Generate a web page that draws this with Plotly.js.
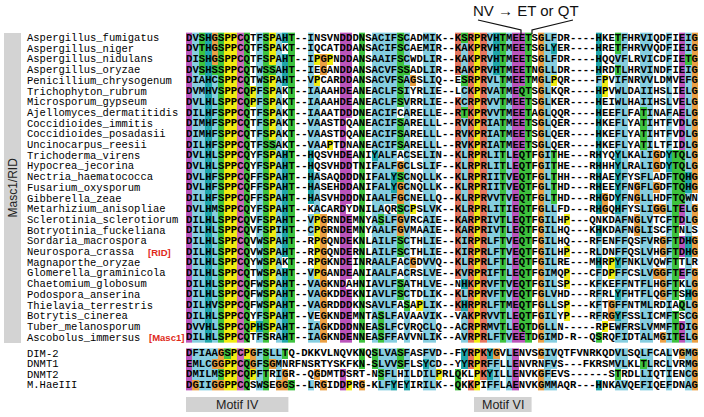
<!DOCTYPE html>
<html><head><meta charset="utf-8">
<script src="https://cdn.plot.ly/plotly-3.0.1.min.js"></script>
<style>html,body{margin:0;padding:0;background:#fff}#chart{width:704px;height:417px}</style>
</head><body><div id="chart"></div>
<script>
// ---------------- data ----------------
const fungalNames = [
  'Aspergillus_fumigatus','Aspergillus_niger','Aspergillus_nidulans','Aspergillus_oryzae',
  'Penicillium_chrysogenum','Trichophyton_rubrum','Microsporum_gypseum','Ajellomyces_dermatitidis',
  'Coccidioides_immitis','Coccidioides_posadasii','Uncinocarpus_reesii','Trichoderma_virens',
  'Hypocrea_jecorina','Nectria_haematococca','Fusarium_oxysporum','Gibberella_zeae',
  'Metarhizium_anisopliae','Sclerotinia_sclerotiorum','Botryotinia_fuckeliana','Sordaria_macrospora',
  'Neurospora_crassa','Magnaporthe_oryzae','Glomerella_graminicola','Chaetomium_globosum',
  'Podospora_anserina','Thielavia_terrestris','Botrytis_cinerea','Tuber_melanosporum','Ascobolus_immersus'
];
const fungalSeqs = [
  'DVSHGSPPCQTFSPAHT--INSVNDDDNSACIFSCADMIK--KSRPRVHTMEETSGLFDR----HKETFHRVIQDFIEIG',
  'DVTHGSPPCQTFSPAKT--IQCATDDANSACIFSCAEMIR--KAKPRVHTMEETSGLYER----HRETFHRVVQDFIEIG',
  'DISHGSPPCQTFSPAHT--IPGPNDDANSAAIFSCWDLIR--KAKPRVHTMEETSGLFDR----HQQVFLRVICDFIETG',
  'DVSHSSPPCQTWSSAHT--IEGANDDANSACVFSSADLIR--RAKPRVHTMEETNGLLDR----HRDTLHRVINDFIEIG',
  'DIAHCSPPCQTWSPAHT--VPCARDDANSACVFSAGSLIQ--ESRPRVLTMEETMGLPQR----FPVIFNRVVLDMVEFG',
  'DVMHVSPPCQPFSPAKT--IAAAHDEANEACLFSIYRLIE--LCKPRVATMEQTSGLKQR----HPVWLDAIIHSLIELG',
  'DVLHLSPPCQPFSPAKT--IAAAHDEANEACLFSVRRLIE--KCRPRVVTMEETSGLKER----HEIWLHAIIHSLVELG',
  'DILHFSPPCQTFSPAKT--IAAATDDDNEACIFCARELLE--RTKPRVVTMEETAGLQQR----HEEFLFATINAFAELG',
  'DIMHFSPPCQTFSPAKT--VAASTDQANEACIFSARELLL--RVKPRIATMEETSGLQER----HKEFLYATIHTFVDLG',
  'DIMHFSPPCQTFSPAKT--VAASTDQANEACIFSARELLL--RVKPRIATMEETSGLQER----HKEFLYATIHTFVDLG',
  'DILHFSPPCQTFSSAKT--VAAPTDNANEACIFSARELLL--RVKPRIATMEETSGLQER----HKEFLYATILTFIDLG',
  'DVLHLSPPCQYFSPAHT--HQSVHDEANIYALFACSELIN--KLRPRLITLEQTFGITHE---RHYQYLKALIGDYTQLG',
  'DVLHLSPPCQYFSPAHT--HQSVHDDTNIFALFGCLSLIF--KLRPRLITLEQTFGITHE---RHHHYLRALIGDYTQLG',
  'DVLHFSPPCQFFSPAHT--HASAQDDDNIFALYSCNQLLK--KLRPRIITVEQTFGLTHH---RHAEYFYSFLADFTQHG',
  'DVLHFSPPCQFFSPAHT--HASEHDDANIFALYGCNQLLK--KLRPRIITVEQTFGLTHD---RHEEYFNGFLGDFTQHG',
  'DILHFSPPCQFFSPAHT--HASVHDDDNIAALFGCNELLQ--KLRPRVVTVEQTFGLTHD---RHGDYFNGLLHDFTQWN',
  'DVLHMSPPCQYFSPAHT--KACARDYDNILAQRSCPSLVK--KLRPRLITIEQTFGLLFD---RHGQHFYSLIGGLTELG',
  'DILHLSPPCQVFSPAHT--VPGRNDEMNYASLFGVRCAIE--KARPRIVTLEQTFGILHP---QNKDAFNGLVTCFTDLG',
  'DILHLSPPCQVFSPIHT--CPGRNDEMNYAALFGVMAAIE--KARPRIVTLEQTFGILHQ---KHKDAFNGLISCFTNLS',
  'DILHLSPPCQVWSPAHT--RPGQNDEKNLAILFSCTHLIE--KIRPRLFTVEQTFGILHQ---RFENFFQSFVRGFTDHG',
  'DILHLSPPCQVWSPAHT--RPGQNDERNLAILFSCTHLIE--KIRPRLFTVEQTFGILHP---RLDNFFQSLVHGFTDHG',
  'DILHLSPPCQYWSPAKT--RPGKNDEINRAALFACGDVVQ--KLRPRLFTLEQTFGILRE---MHRPYFNKLVQWFTTLR',
  'DILHLSPPCQTWSPAHT--VPGANDEANIAALFACRSLVE--KVRPRIFTLEQTFGIMQP---CFDPFFCSLVGGFTEFG',
  'DILHLSPPCQFWSPAHT--VAGKNDAHNIAVLFSATHLVE--NHKPRVFTVEQTFGILSP---KFKEFFNTFLHGFTKLG',
  'DILHLSPPCQFWSPAHT--VAGKDDEKNIAVLFSCTDLIK--KLRPRVFTVEQTFGLVHD---RFRLYFHTFLQGFTSHG',
  'DILHVSPPCQFWSPAHT--VAGRDDDKNSAVLFASAPLIK--KHRPRLFTMEQTFGLLSP---KFTGFFNTMLRDIAQLG',
  'DILHLSPPCQYFSPAHT--VEGKNDEMNTASLFAVAAVIK--VAKPRVVTLEQTFGILYP---RFRGYFSSLICMFTSCG',
  'DVVHLSPPCQPHSPAHT--IAGKDDDNNEASLFCVRQCLQ--ACRPRMVTLEQTDGLLN-----RPEWFRSLVMMFTDIG',
  'DILHLSPPCQTFSRAHT--IAGKNDENNEASFFAVVNLIK--AVRPRLFTVEETDGIMD-R--QSRQFIDTALMGITELG'
];
const mtaseNames = ['DIM-2','DNMT1','DNMT2','M.HaeIII'];
const mtaseSeqs = [
  'DFIAAGSPCPGFSLLTQ-DKKVLNQVKNQSLVASFASFVD--FYRPKYGVLENVSGIVQTFVNRKQDVLSQLFCALVGMG',
  'EMLCGGPPCQGFSGMNRFNSRTYSKFKN-SLVVSFLSYCD--YYRPRFFLLENVRNFVS---FKRSMVLKLTLRCLVRMG',
  'DMILMSPPCQPFTRIGR--QGDMTDSRT-NSFLHILDILPRLQKLPKYILLENVKGFEVS------STRDLLIQTIENCG',
  'DGIIGGPPCQSWSEGGS--LRGIDDPRG-KLFYEYIRILK--QKKPIFFLAENVKGMMAQR---HNKAVQEFIQEFDNAG'
];
const taggedSpecies = ['Neurospora_crassa','Ascobolus_immersus'];
const tagTexts = ['[RID]','[Masc1]'];
const groupLabel = 'Masc1/RID';
const motifLabels = ['Motif IV','Motif VI'];
const mutationLabel = 'NV \u2192 ET or QT';

// ---------------- geometry helpers ----------------
const W = 704, H = 417;
const CW = 6.4, X0 = 186;     // column width, alignment left edge (px)
const RH = 10.7, Y0 = 38;     // row height, first row centre (px)
const xr0 = 0.5 - X0 / CW, xr1 = xr0 + W / CW;
const yr0 = -Y0 / RH, yr1 = yr0 + H / RH;
const px = v => v / W, py = v => 1 - v / H;

const NCOL = 80;
const pad = s => (s + '-'.repeat(NCOL)).slice(0, NCOL);
const allSeqs = fungalSeqs.concat(mtaseSeqs).map(pad);
const fungalY = fungalSeqs.map((_, i) => i);
const mtaseY = mtaseSeqs.map((_, j) => fungalSeqs.length + 0.5 + j * 0.985);

// ---------------- ClustalX colouring ----------------
const COLORS = ['#ffffff', '#86cee0', '#1fa6aa', '#3ec23e', '#e7765f', '#bb55bb', '#c96bb9', '#eba044', '#f1ec12'];
const CI = {NONE:0, BLUE:1, CYAN:2, GREEN:3, RED:4, MAGENTA:5, PINK:6, ORANGE:7, YELLOW:8};
function consensus(colChars) {
  const n = colChars.length, cnt = {};
  colChars.forEach(c => cnt[c] = (cnt[c] || 0) + 1);
  const pct = s => s.split('').reduce((a, c) => a + (cnt[c] || 0), 0) / n * 100;
  const S = new Set();
  const hyd = pct('WLVIMAFCYHP');
  if (hyd >= 60) S.add('%');
  if (hyd >= 80) S.add('#');
  if (pct('ED') >= 50) S.add('-');
  if (pct('KR') >= 60) S.add('+');
  if (pct('G') >= 50) S.add('g');
  if (pct('N') >= 50) S.add('n');
  if (pct('QE') >= 50) S.add('q');
  if (pct('P') >= 50) S.add('p');
  if (pct('TS') >= 50) S.add('t');
  for (const aa of 'ACDEFGHIKLMNPQRSTVWY') if (pct(aa) >= 85) S.add(aa);
  return S;
}
const HYD = '%#ACFHILMVWYPp';
const RULES = {
  G: [['ORANGE', null]], P: [['YELLOW', null]],
  T: [['GREEN', 'tST%#']], S: [['GREEN', 'tST#']],
  N: [['GREEN', 'nND']], Q: [['GREEN', 'qQE+KR']],
  W: [['BLUE', HYD]], L: [['BLUE', HYD]], V: [['BLUE', HYD]], I: [['BLUE', HYD]],
  M: [['BLUE', HYD]], F: [['BLUE', HYD]], A: [['BLUE', HYD + 'TSG']],
  C: [['BLUE', '%#AFHILMVWYSPp'], ['PINK', 'C']],
  H: [['CYAN', HYD]], Y: [['CYAN', HYD]],
  E: [['MAGENTA', '-DEqQ']], D: [['MAGENTA', '-DEnN']],
  K: [['RED', '+KRQ']], R: [['RED', '+KRQ']]
};
const cons = [];
for (let c = 0; c < NCOL; c++) cons.push(consensus(allSeqs.map(s => s[c])));
function colorIndex(ch, c) {
  const rules = RULES[ch]; if (!rules) return 0;
  let res = 0;
  for (const [col, cond] of rules) {
    if (cond === null || cond.split('').some(k => cons[c].has(k))) res = CI[col];
  }
  return res;
}
const zOf = seqs => seqs.map(pad).map(s => s.split('').map((ch, c) => colorIndex(ch, c)));
const cols = Array.from({length: NCOL}, (_, i) => i + 1);
const cscale = [];
COLORS.forEach((c, i) => { cscale.push([i / COLORS.length, c]); cscale.push([(i + 1) / COLORS.length, c]); });

const hm = (seqs, ys) => ({
  type: 'heatmap', x: cols, y: ys, z: zOf(seqs), zmin: -0.5, zmax: COLORS.length - 0.5,
  colorscale: cscale, showscale: false, hoverinfo: 'skip', xgap: 0, ygap: 0
});

// residue letters
const tx = [], ty = [], tt = [];
[[fungalSeqs, fungalY], [mtaseSeqs, mtaseY]].forEach(([seqs, ys]) => {
  seqs.map(pad).forEach((s, r) => s.split('').forEach((ch, c) => { tx.push(c + 1); ty.push(ys[r]); tt.push(ch); }));
});
const letters = {
  type: 'scatter', mode: 'text', x: tx, y: ty, text: tt, hoverinfo: 'skip',
  textposition: 'middle center',
  textfont: {family: 'Liberation Mono, DejaVu Sans Mono, monospace', size: 10.6, color: '#000', weight: 'bold'}
};

// ---------------- annotations & shapes ----------------
const ann = [];
const monoFont = {family: 'Liberation Mono, DejaVu Sans Mono, monospace', size: 10.5, color: '#000'};
const sans = (size, color) => ({family: 'Liberation Sans, Arial, sans-serif', size: size, color: color});
fungalNames.forEach((n, i) => ann.push({xref: 'paper', yref: 'y', x: px(25), y: fungalY[i], xanchor: 'left', yanchor: 'middle', text: n, showarrow: false, font: monoFont}));
mtaseNames.forEach((n, i) => ann.push({xref: 'paper', yref: 'y', x: px(25), y: mtaseY[i], xanchor: 'left', yanchor: 'middle', text: n, showarrow: false, font: monoFont}));
const tagLeft = [146, 147];
taggedSpecies.forEach((sp, k) => {
  const i = fungalNames.indexOf(sp);
  ann.push({xref: 'paper', yref: 'y', x: px(tagLeft[k]), y: fungalY[i], xanchor: 'left', yanchor: 'middle', text: '<b>' + tagTexts[k] + '</b>', showarrow: false,
    font: sans(9.5, '#e02a1a')});
});
ann.push({xref: 'paper', yref: 'paper', x: px(12.5), y: py(188), xanchor: 'center', yanchor: 'middle', text: groupLabel, textangle: -90, showarrow: false,
  font: sans(12, '#222')});
ann.push({xref: 'paper', yref: 'paper', x: px(526), y: py(11), xanchor: 'center', yanchor: 'middle', text: mutationLabel, showarrow: false,
  font: sans(15, '#111')});

const shapes = [];
shapes.push({type: 'rect', xref: 'paper', yref: 'paper', x0: px(4), x1: px(21), y0: py(343), y1: py(33), fillcolor: '#d3d3d3', line: {width: 0}, layer: 'below'});
const motifCols = [[1, 16], [46, 54]];
motifCols.forEach(([a, b], k) => {
  shapes.push({type: 'rect', xref: 'x', yref: 'paper', x0: a - 0.5, x1: b + 0.5, y0: py(412), y1: py(397), fillcolor: '#d2d2d2', line: {width: 0}});
  ann.push({xref: 'x', yref: 'paper', x: (a + b) / 2, y: py(404.5), xanchor: 'center', yanchor: 'middle', text: motifLabels[k], showarrow: false,
    font: sans(12.5, '#222')});
});
// pointer lines to the ET/NV columns (53-54)
const lineStyle = {color: '#111', width: 1.2};
shapes.push({type: 'path', xref: 'paper', yref: 'paper', path: `M ${px(478)} ${py(20)} L ${px(521)} ${py(30)} L ${px(521)} ${py(34)}`, line: lineStyle});
shapes.push({type: 'path', xref: 'paper', yref: 'paper', path: `M ${px(573)} ${py(20)} L ${px(532)} ${py(30)} L ${px(532)} ${py(34)}`, line: lineStyle});

const layout = {
  width: W, height: H, margin: {l: 0, r: 0, t: 0, b: 0},
  paper_bgcolor: '#fff', plot_bgcolor: '#fff', showlegend: false,
  xaxis: {range: [xr0, xr1], visible: false, fixedrange: true},
  yaxis: {range: [yr1, yr0], visible: false, fixedrange: true},
  annotations: ann, shapes: shapes
};
Plotly.newPlot('chart', [hm(fungalSeqs, fungalY), hm(mtaseSeqs, mtaseY), letters], layout, {staticPlot: true, displayModeBar: false});
</script></body></html>
